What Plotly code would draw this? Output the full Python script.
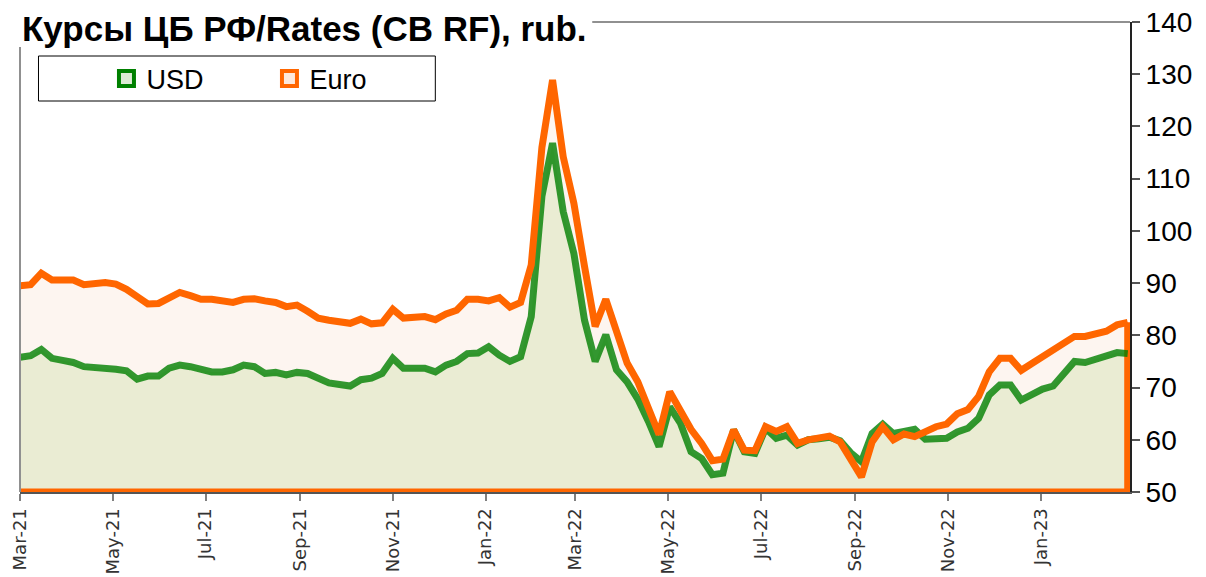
import pandas as pd
import plotly.graph_objects as go

# ---------------- data ----------------
START_DATE = "2021-03-01"
N_WEEKS = 105
dates = pd.date_range(START_DATE, periods=N_WEEKS, freq="7D")

usd = [75.8, 76.1, 77.3, 75.6, 75.2, 74.8, 74.0, 73.9, 73.5, 73.5,
       73.2, 71.6, 72.2, 72.2, 73.7, 74.3, 74.0, 73.5, 73.0, 73.0,
       73.4, 74.3, 74.0, 72.7, 72.9, 72.4, 72.9, 72.7, 71.8, 70.9,
       70.6, 70.3, 71.5, 71.8, 72.7, 75.6, 73.7, 73.7, 73.7, 73.0,
       74.3, 75.0, 76.5, 76.6, 77.8, 76.2, 75.0, 75.9, 83.6, 106.6,
       116.8, 103.7, 95.7, 82.9, 75.0, 80.1, 73.4, 71.1, 67.8, 63.5,
       58.7, 66.3, 63.2, 57.7, 56.4, 53.3, 53.6, 61.9, 57.7, 57.4,
       62.2, 60.3, 60.9, 59.0, 60.0, 60.2, 60.5, 59.8, 57.5, 55.8,
       61.2, 63.0, 61.2, 61.6, 62.0, 60.1, 60.2, 60.3, 61.5, 62.2,
       64.1, 68.6, 70.5, 70.5, 67.6, 68.8, 69.7, 70.3, 72.6, 75.0,
       74.8, 75.5, 76.1, 76.7, 76.5]

euro = [89.5, 89.7, 91.9, 90.6, 90.6, 90.6, 89.7, 89.8, 90.1, 89.8,
        88.8, 87.4, 86.0, 86.1, 87.2, 88.2, 87.6, 86.9, 86.9, 86.6,
        86.3, 86.9, 87.0, 86.6, 86.3, 85.5, 85.8, 84.6, 83.3, 82.9,
        82.6, 82.3, 83.1, 82.2, 82.4, 85.0, 83.3, 83.3, 83.6, 83.0,
        84.1, 84.8, 86.9, 86.9, 86.6, 87.2, 85.4, 86.3, 93.5, 116.0,
        128.9, 114.2, 105.3, 93.2, 81.7, 86.9, 80.4, 74.7, 71.1, 66.2,
        61.0, 69.2, 65.7, 62.0, 59.3, 56.0, 56.3, 61.9, 58.0, 57.9,
        62.5, 61.6, 62.5, 59.3, 60.0, 60.3, 60.7, 59.6, 56.5, 52.9,
        59.6, 62.5, 60.0, 61.1, 60.6, 61.6, 62.5, 63.0, 65.0, 65.8,
        68.3, 73.0, 75.6, 75.6, 73.3, 74.6, 76.0, 77.4, 78.6, 79.8,
        79.8, 80.2, 80.8, 82.0, 82.5]

series_names = ["USD", "Euro"]
title_text = "Курсы ЦБ РФ/Rates (CB RF), rub."
Y_RANGE = [50, 140]
Y_STEP = 10

# ---------------- style ----------------
ORANGE = "#FF6600"
GREEN_LINE = "rgba(0,128,0,0.8)"
GREEN = "#008000"
USD_FILL = "#EAECD3"
EURO_FILL = "#FDF5F0"

# ---------------- layout geometry (pixels) ----------------
# the page places the figure 8 px from the top-left corner of the window
OFF = 8
W, H = 1206, 577
PLOT_L, PLOT_R, PLOT_T, PLOT_B = 19.5, 1130, 22, 492   # target window pixels
ML = PLOT_L - OFF
MT = PLOT_T - OFF
MR = W - (PLOT_R - OFF)
MB = H - (PLOT_B - OFF)
PW, PH = W - ML - MR, H - MT - MB


def px_x(px):
    return (px - OFF - ML) / PW


def px_y(py):
    return (PLOT_B - py) / PH


fig = go.Figure()

# area fills
fig.add_trace(go.Scatter(x=dates, y=euro, mode="lines", line=dict(width=0),
                         fill="tozeroy", fillcolor=EURO_FILL,
                         showlegend=False, hoverinfo="skip"))
fig.add_trace(go.Scatter(x=dates, y=usd, mode="lines", line=dict(width=0),
                         fill="tozeroy", fillcolor=USD_FILL,
                         showlegend=False, hoverinfo="skip"))

# area outline (right edge + bottom) of the Euro area
fig.add_trace(go.Scatter(x=[dates[-1], dates[-1], dates[0]],
                         y=[euro[-1], Y_RANGE[0], Y_RANGE[0]],
                         mode="lines", line=dict(color=ORANGE, width=7),
                         showlegend=False, hoverinfo="skip"))

# series lines
fig.add_trace(go.Scatter(x=dates, y=usd, mode="lines",
                         line=dict(color=GREEN_LINE, width=7),
                         showlegend=False, name="USD"))
fig.add_trace(go.Scatter(x=dates, y=euro, mode="lines",
                         line=dict(color=ORANGE, width=7),
                         showlegend=False, name="Euro"))

# legend-only entries
fig.add_trace(go.Scatter(x=[None], y=[None], mode="markers", name=series_names[0],
                         marker=dict(symbol="square", size=15, color="#DCEBD4",
                                     line=dict(color=GREEN, width=4))))
fig.add_trace(go.Scatter(x=[None], y=[None], mode="markers", name=series_names[1],
                         marker=dict(symbol="square", size=15, color="#FDE9DC",
                                     line=dict(color=ORANGE, width=4))))

x_end = dates[-1] + pd.Timedelta(hours=36)

fig.update_layout(
    width=W, height=H,
    margin=dict(l=ML, r=MR, t=MT, b=MB, autoexpand=False),
    paper_bgcolor="white", plot_bgcolor="white",
    showlegend=True,
    legend=dict(orientation="h", x=px_x(106), xanchor="left",
                y=px_y(79), yanchor="middle",
                font=dict(family="Liberation Sans, Arial", size=27, color="black"),
                bgcolor="rgba(0,0,0,0)", borderwidth=0,
                entrywidth=118, entrywidthmode="pixels", itemwidth=30),
    xaxis=dict(type="date", range=[dates[0], x_end], automargin=False,
               tick0=START_DATE, dtick="M2", tickformat="%b-%y",
               tickangle=-90, ticks="outside", ticklen=7, tickcolor="#808080",
               tickwidth=2, ticklabeloverflow="allow",
               showline=True, linecolor="#555555", linewidth=2,
               showgrid=False, zeroline=False,
               tickfont=dict(family="DejaVu Sans", size=18, color="#333333")),
    yaxis=dict(range=Y_RANGE, dtick=Y_STEP, side="right", automargin=False,
               ticks="outside", ticklen=8, tickcolor="#555555", tickwidth=1.5,
               ticklabeloverflow="allow",
               showline=True, linecolor="#222222", linewidth=2,
               showgrid=False, zeroline=False,
               tickfont=dict(family="Liberation Sans, Arial", size=28, color="black")),
    shapes=[
        # left border
        dict(type="line", xref="paper", yref="paper", x0=0, x1=0, y0=0, y1=1,
             line=dict(color="#909090", width=2), layer="above"),
        # top border
        dict(type="line", xref="paper", yref="paper", x0=0, x1=1, y0=1, y1=1,
             line=dict(color="#909090", width=2), layer="above"),
        # title background
        dict(type="rect", xref="paper", yref="paper",
             x0=px_x(0), x1=px_x(592), y0=px_y(47), y1=px_y(0),
             fillcolor="white", line=dict(width=0), layer="above"),
        # legend box
        dict(type="rect", xref="paper", yref="paper",
             x0=px_x(38), x1=px_x(435), y0=px_y(101), y1=px_y(56),
             fillcolor="white", line=dict(color="black", width=1), layer="above"),
    ],
    annotations=[
        dict(text="<b>" + title_text + "</b>", xref="paper", yref="paper",
             x=px_x(20), y=px_y(28), xanchor="left", yanchor="middle",
             showarrow=False,
             font=dict(family="Liberation Sans, Arial", size=35, color="black")),
    ],
)

fig.write_html("out.html")
